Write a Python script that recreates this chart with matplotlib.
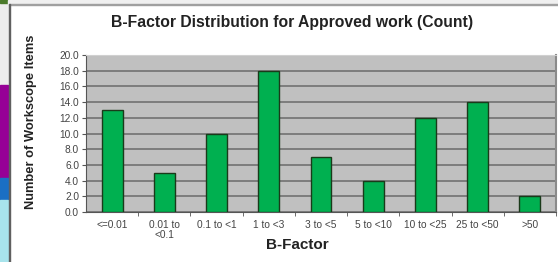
import matplotlib
matplotlib.use('Agg')
import matplotlib.pyplot as plt
from matplotlib.patches import Rectangle

plt.rcParams['font.family'] = ['Liberation Sans', 'DejaVu Sans']

categories = ['<=0.01', '0.01 to\n<0.1', '0.1 to <1', '1 to <3', '3 to <5',
              '5 to <10', '10 to <25', '25 to <50', '>50']
counts = [13, 5, 10, 18, 7, 4, 12, 14, 2]
y_ticks = [0, 2, 4, 6, 8, 10, 12, 14, 16, 18, 20]

W, H = 558, 262
fig = plt.figure(figsize=(W / 100, H / 100), dpi=100)
fig.patch.set_facecolor('white')

# window chrome on the left / top edges
def px_rect(x0, y0, x1, y1, color):
    fig.patches.append(Rectangle((x0 / W, 1 - y1 / H), (x1 - x0) / W, (y1 - y0) / H,
                                 transform=fig.transFigure, color=color, zorder=0))

px_rect(0, 0, 8, 85, '#ececec')
px_rect(0, 85, 8, 178, '#960096')
px_rect(0, 178, 8, 200, '#1a6fc4')
px_rect(0, 200, 8, 262, '#a8e4ec')
px_rect(0, 0, 8, 3, '#4a7a2a')
px_rect(8, 0, W, 4, '#f0f0f0')
px_rect(9, 4, W, 5, '#a0a0a0')
px_rect(9, 4, 10, H, '#606060')

ax = fig.add_axes([86 / W, 1 - 212 / H, 470 / W, 157 / H])
ax.set_facecolor('#c0c0c0')
x = range(len(categories))
ax.bar(x, counts, width=0.4, color='#00b050', edgecolor='#1a3a1a', linewidth=1.0, zorder=3)

ax.set_xlim(-0.5, len(categories) - 0.5)
ax.set_ylim(0, 20)
ax.set_yticks(y_ticks)
ax.set_yticklabels([f'{v:.1f}' for v in y_ticks], fontsize=7.3, color='#444444')
ax.yaxis.grid(True, color='#777777', linewidth=1.3, zorder=1)
ax.set_xticks(list(x))
ax.set_xticklabels(categories, fontsize=7.3, color='#444444', linespacing=1.0)
ax.set_xticks([i + 0.5 for i in range(len(categories))], minor=True)
ax.tick_params(axis='x', which='major', length=0, pad=6)
ax.tick_params(axis='x', which='minor', length=3, color='#555555')
ax.tick_params(axis='y', length=3, color='#555555', pad=2)

ax.spines['top'].set_color('#d0d0d0')
ax.spines['right'].set_color('#8a8a8a')
ax.spines['right'].set_linewidth(1.5)
ax.spines['left'].set_color('#555555')
ax.spines['bottom'].set_color('#555555')

fig.text(292 / W, 1 - 22 / H, 'B-Factor Distribution for Approved work (Count)',
         ha='center', va='center', fontsize=11.3, fontweight='bold', color='#222222')
fig.text(297 / W, 1 - 245 / H, 'B-Factor', ha='center', va='center',
         fontsize=11, fontweight='bold', color='#222222')
fig.text(31 / W, 1 - 122 / H, 'Number of Workscope Items', ha='center', va='center',
         rotation=90, fontsize=9.3, fontweight='bold', color='#222222')

fig.savefig('out.png', dpi=100)
